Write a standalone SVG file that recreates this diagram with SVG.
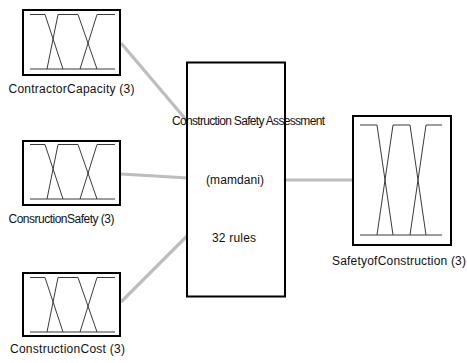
<svg xmlns="http://www.w3.org/2000/svg" width="467" height="363" viewBox="0 0 467 363">
  <style>
    .box { fill: #ffffff; stroke: #000000; stroke-width: 2; }
    .mf { fill: none; stroke: #3a3a3a; stroke-width: 1; }
    .link { stroke: #bdbdbd; stroke-width: 3.2; fill: none; }
    .lbl { font-family: "Liberation Sans", Arial, sans-serif; font-size: 12px; fill: #111111; }
  </style>
  <defs>
    <!-- three trapezoidal membership functions, small input panel -->
    <g id="mf-small">
      <polyline class="mf" points="0,0 15,0 33,54.5"/>
      <polyline class="mf" points="17,54.5 28,0 48,0 67,54.5"/>
      <polyline class="mf" points="50,54.5 67,0 85,0"/>
      <line class="mf" x1="0" y1="54.5" x2="85" y2="54.5"/>
    </g>
  </defs>

  <!-- connectors -->
  <g id="connectors">
    <line class="link" x1="121" y1="43" x2="188" y2="122"/>
    <line class="link" x1="121" y1="174" x2="188" y2="178"/>
    <line class="link" x1="121" y1="302" x2="188" y2="235"/>
    <line class="link" x1="285" y1="180" x2="353" y2="180"/>
  </g>

  <!-- inputs -->
  <g id="contractor-capacity">
    <rect class="box" x="23" y="10" width="97" height="65"/>
    <use href="#mf-small" x="30" y="14.5"/>
    <text class="lbl" x="8.5" y="93" textLength="126" lengthAdjust="spacing">ContractorCapacity (3)</text>
  </g>

  <g id="consruction-safety">
    <rect class="box" x="23" y="141" width="97" height="64"/>
    <use href="#mf-small" x="30" y="144.5"/>
    <text class="lbl" x="8.5" y="223" textLength="106" lengthAdjust="spacing">ConsructionSafety (3)</text>
  </g>

  <g id="construction-cost">
    <rect class="box" x="23" y="273" width="97" height="63"/>
    <use href="#mf-small" x="30" y="277.5"/>
    <text class="lbl" x="10" y="353" textLength="115" lengthAdjust="spacing">ConstructionCost (3)</text>
  </g>

  <!-- inference system -->
  <g id="assessment">
    <rect class="box" x="187" y="62.5" width="98" height="234"/>
    <text class="lbl" x="172" y="124.5" textLength="153" lengthAdjust="spacing">Construction Safety Assessment</text>
    <text class="lbl" x="206" y="183.5" textLength="58" lengthAdjust="spacing">(mamdani)</text>
    <text class="lbl" x="212" y="242" textLength="44" lengthAdjust="spacing">32 rules</text>
  </g>

  <!-- output -->
  <g id="safety-of-construction">
    <rect class="box" x="353" y="116" width="98" height="129"/>
    <polyline class="mf" points="360,125 377,125 393,235"/>
    <polyline class="mf" points="377,235 393,125 410,125 426,235"/>
    <polyline class="mf" points="410,235 426,125 442,125"/>
    <line class="mf" x1="360" y1="235" x2="442" y2="235"/>
    <text class="lbl" x="332" y="265" textLength="134" lengthAdjust="spacing">SafetyofConstruction (3)</text>
  </g>
</svg>
